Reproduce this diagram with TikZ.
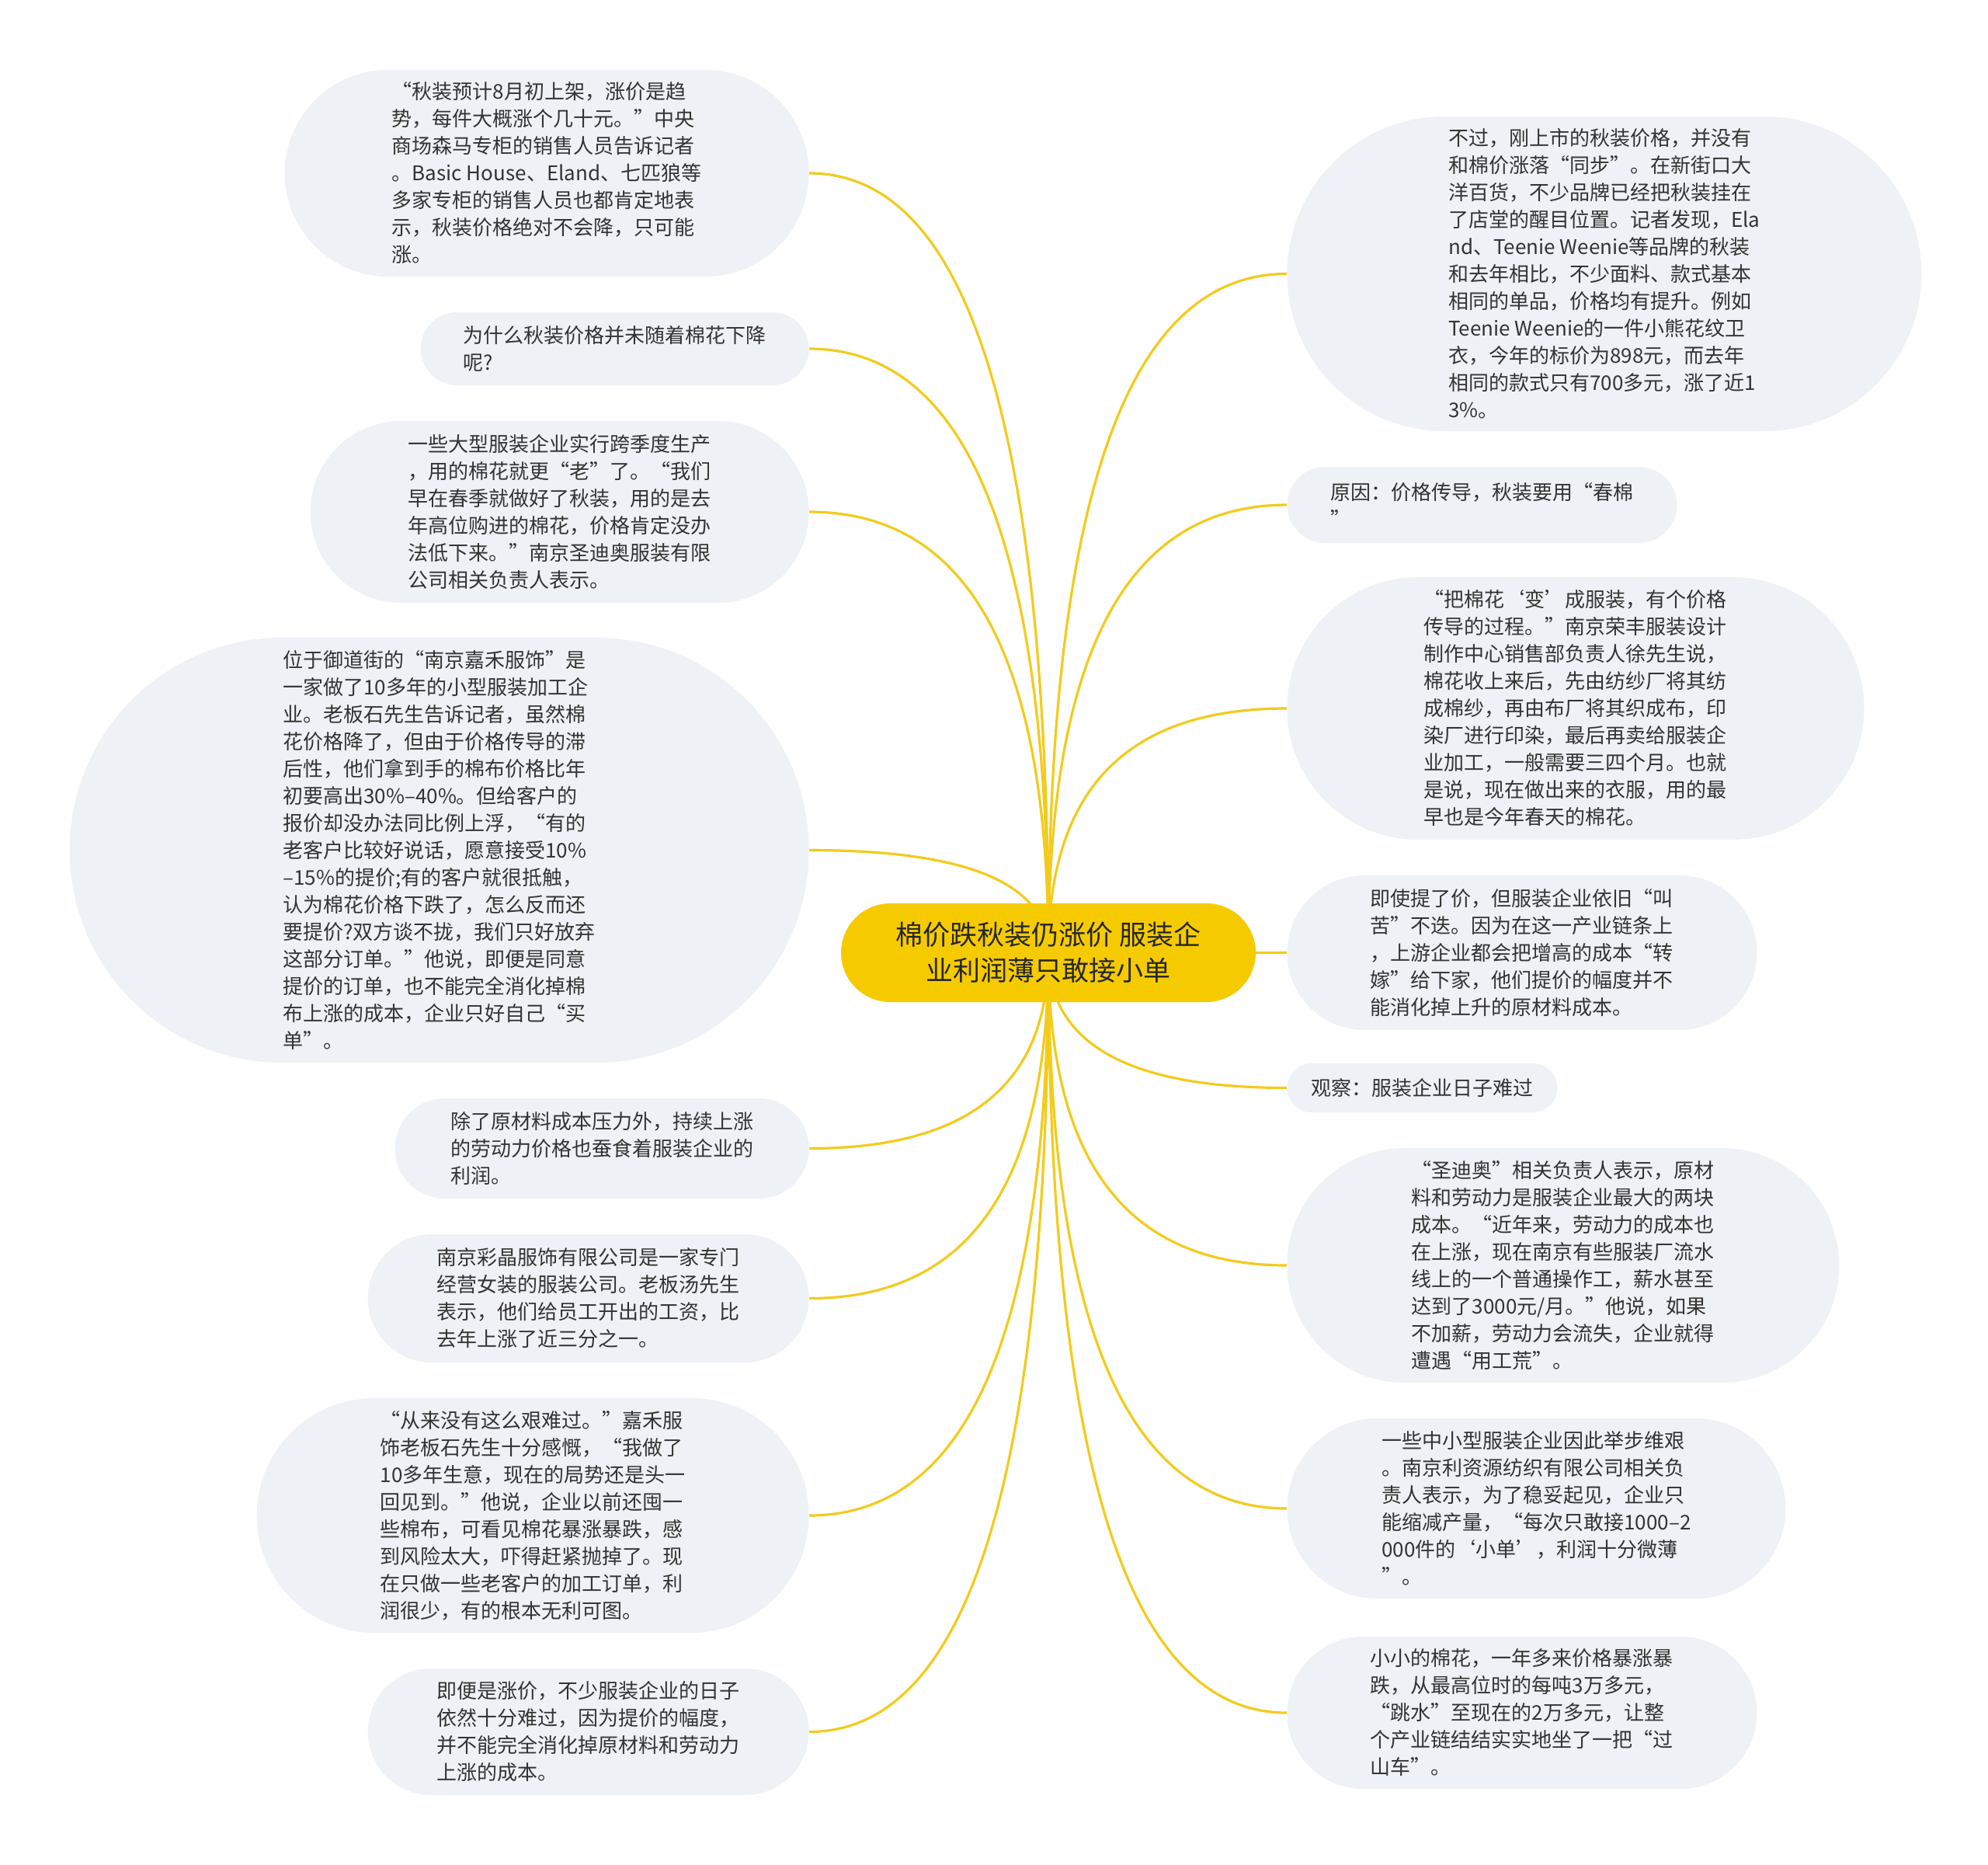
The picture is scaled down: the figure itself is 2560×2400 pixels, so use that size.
\documentclass[tikz,border=0pt]{standalone}
\usepackage{fontspec}
\setmainfont{Noto Sans CJK SC}
\usetikzlibrary{shapes.misc,calc}
\definecolor{bubfill}{HTML}{EEF1F5}
\definecolor{mainfill}{HTML}{F5CB00}
\definecolor{linkcol}{HTML}{F2CB1D}
\definecolor{txtcol}{HTML}{333333}
\pgfdeclarelayer{back}
\pgfsetlayers{back,main}
\tikzset{
	bub/.style={
		shape=rounded rectangle, fill=bubfill, inner sep=0pt, align=left,
		text=txtcol, font={\fontsize{13}{17.5}\selectfont}
	},
	mainbub/.style={
		shape=rounded rectangle, fill=mainfill, inner sep=0pt, align=center,
		text=black!85, font={\fontsize{17.5}{23}\selectfont}
	},
	link/.style={draw=linkcol, line width=1.6pt},
}
\def\lEdge{1042}
\def\rEdge{1657}

\begin{document}
\begin{tikzpicture}[x=0.5pt, y=-0.5pt]
\useasboundingbox (0,0) rectangle (2560,2400);
\node[mainbub, minimum width=267pt, minimum height=63.5pt] (main) at (1350,1226.5)
{棉价跌秋装仍涨价 服装企\\业利润薄只敢接小单};

\node[bub, anchor=east, minimum width=337.5pt, minimum height=133pt] (l1) at (\lEdge,223)
{“秋装预计8月初上架，涨价是趋\\势，每件大概涨个几十元。”中央\\商场森马专柜的销售人员告诉记者\\。Basic House、Eland、七匹狼等\\多家专柜的销售人员也都肯定地表\\示，秋装价格绝对不会降，只可能\\涨。};
\node[bub, anchor=east, minimum width=250pt, minimum height=47pt] (l2) at (\lEdge,449)
{为什么秋装价格并未随着棉花下降\\呢?};
\node[bub, anchor=east, minimum width=321pt, minimum height=117pt] (l3) at (\lEdge,659)
{一些大型服装企业实行跨季度生产\\，用的棉花就更“老”了。“我们\\早在春季就做好了秋装，用的是去\\年高位购进的棉花，价格肯定没办\\法低下来。”南京圣迪奥服装有限\\公司相关负责人表示。};
\node[bub, anchor=east, minimum width=476pt, minimum height=273.5pt] (l4) at (\lEdge,1094.5)
{位于御道街的“南京嘉禾服饰”是\\一家做了10多年的小型服装加工企\\业。老板石先生告诉记者，虽然棉\\花价格降了，但由于价格传导的滞\\后性，他们拿到手的棉布价格比年\\初要高出30\%–40\%。但给客户的\\报价却没办法同比例上浮，“有的\\老客户比较好说话，愿意接受10\%\\–15\%的提价;有的客户就很抵触，\\认为棉花价格下跌了，怎么反而还\\要提价?双方谈不拢，我们只好放弃\\这部分订单。”他说，即便是同意\\提价的订单，也不能完全消化掉棉\\布上涨的成本，企业只好自己“买\\单”。};
\node[bub, anchor=east, minimum width=266.5pt, minimum height=64.5pt] (l5) at (\lEdge,1478.5)
{除了原材料成本压力外，持续上涨\\的劳动力价格也蚕食着服装企业的\\利润。};
\node[bub, anchor=east, minimum width=284pt, minimum height=82.5pt] (l6) at (\lEdge,1671.5)
{南京彩晶服饰有限公司是一家专门\\经营女装的服装公司。老板汤先生\\表示，他们给员工开出的工资，比\\去年上涨了近三分之一。};
\node[bub, anchor=east, minimum width=355.5pt, minimum height=151pt] (l7) at (\lEdge,1951)
{“从来没有这么艰难过。”嘉禾服\\饰老板石先生十分感慨，“我做了\\10多年生意，现在的局势还是头一\\回见到。”他说，企业以前还囤一\\些棉布，可看见棉花暴涨暴跌，感\\到风险太大，吓得赶紧抛掉了。现\\在只做一些老客户的加工订单，利\\润很少，有的根本无利可图。};
\node[bub, anchor=east, minimum width=284pt, minimum height=81.5pt] (l8) at (\lEdge,2229.5)
{即便是涨价，不少服装企业的日子\\依然十分难过，因为提价的幅度，\\并不能完全消化掉原材料和劳动力\\上涨的成本。};

\node[bub, anchor=west, minimum width=408.5pt, minimum height=202.5pt] (r1) at (\rEdge,352.5)
{不过，刚上市的秋装价格，并没有\\和棉价涨落“同步”。在新街口大\\洋百货，不少品牌已经把秋装挂在\\了店堂的醒目位置。记者发现，Ela\\nd、Teenie Weenie等品牌的秋装\\和去年相比，不少面料、款式基本\\相同的单品，价格均有提升。例如\\Teenie Weenie的一件小熊花纹卫\\衣，今年的标价为898元，而去年\\相同的款式只有700多元，涨了近1\\3\%。};
\node[bub, anchor=west, minimum width=251pt, minimum height=49pt] (r2) at (\rEdge,650)
{原因：价格传导，秋装要用“春棉\\”};
\node[bub, anchor=west, minimum width=371.5pt, minimum height=169pt] (r3) at (\rEdge,912)
{“把棉花‘变’成服装，有个价格\\传导的过程。”南京荣丰服装设计\\制作中心销售部负责人徐先生说，\\棉花收上来后，先由纺纱厂将其纺\\成棉纱，再由布厂将其织成布，印\\染厂进行印染，最后再卖给服装企\\业加工，一般需要三四个月。也就\\是说，现在做出来的衣服，用的最\\早也是今年春天的棉花。};
\node[bub, anchor=west, minimum width=302.5pt, minimum height=99.5pt] (r4) at (\rEdge,1226.5)
{即使提了价，但服装企业依旧“叫\\苦”不迭。因为在这一产业链条上\\，上游企业都会把增高的成本“转\\嫁”给下家，他们提价的幅度并不\\能消化掉上升的原材料成本。};
\node[bub, anchor=west, minimum width=174pt, minimum height=31.5pt] (r5) at (\rEdge,1400.5)
{观察：服装企业日子难过};
\node[bub, anchor=west, minimum width=355.5pt, minimum height=151pt] (r6) at (\rEdge,1629)
{“圣迪奥”相关负责人表示，原材\\料和劳动力是服装企业最大的两块\\成本。“近年来，劳动力的成本也\\在上涨，现在南京有些服装厂流水\\线上的一个普通操作工，薪水甚至\\达到了3000元/月。”他说，如果\\不加薪，劳动力会流失，企业就得\\遭遇“用工荒”。};
\node[bub, anchor=west, minimum width=321pt, minimum height=116pt] (r7) at (\rEdge,1942)
{一些中小型服装企业因此举步维艰\\。南京利资源纺织有限公司相关负\\责人表示，为了稳妥起见，企业只\\能缩减产量，“每次只敢接1000–2\\000件的‘小单’，利润十分微薄\\”。};
\node[bub, anchor=west, minimum width=302.5pt, minimum height=98pt] (r8) at (\rEdge,2205)
{小小的棉花，一年多来价格暴涨暴\\跌，从最高位时的每吨3万多元，\\“跳水”至现在的2万多元，让整\\个产业链结结实实地坐了一把“过\\山车”。};

\begin{pgfonlayer}{back}
\foreach \n in {l1,l2,l3,l4,l5,l6,l7,l8}
	\draw[link] (main.center) .. controls ($(main.center)!0.67!(main.center |- \n.east)$)
		and ($(\n.east)!0.67!(main.center |- \n.east)$) .. (\n.east);
\foreach \n in {r1,r2,r3,r4,r5,r6,r7,r8}
	\draw[link] (main.center) .. controls ($(main.center)!0.67!(main.center |- \n.west)$)
		and ($(\n.west)!0.67!(main.center |- \n.west)$) .. (\n.west);
\end{pgfonlayer}
\end{tikzpicture}
\end{document}
